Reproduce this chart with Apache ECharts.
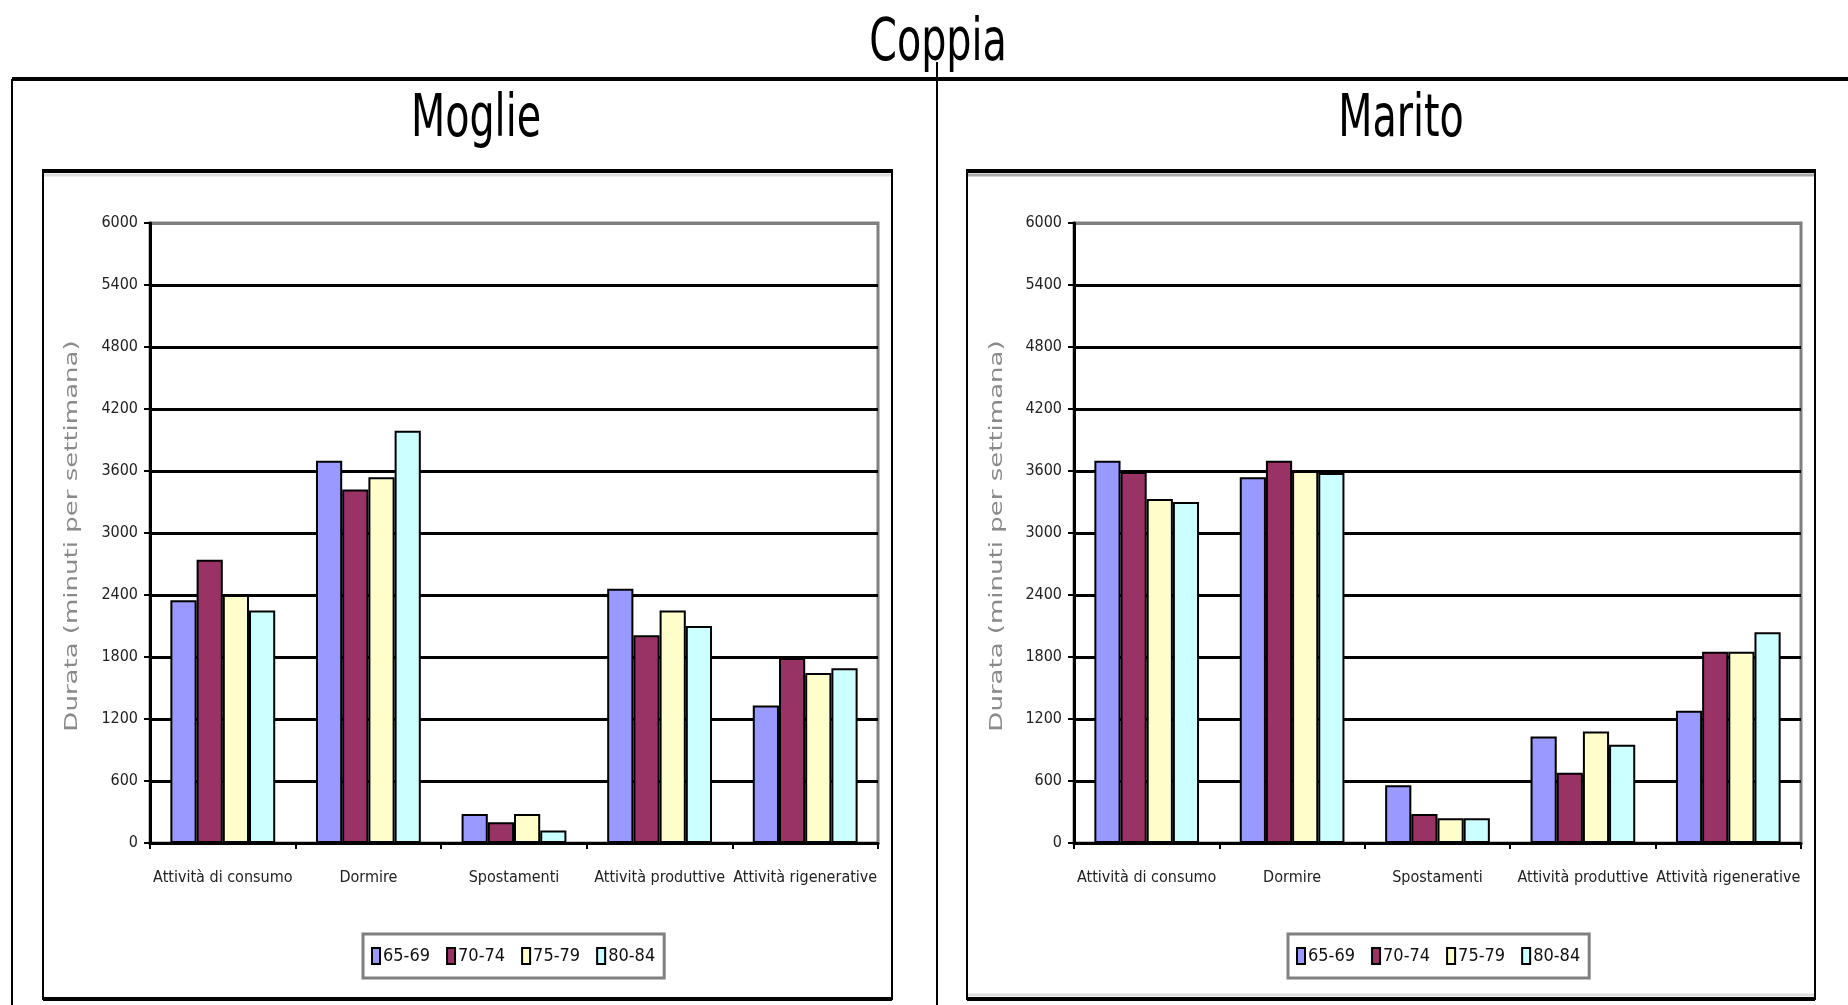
<!DOCTYPE html>
<html>
<head>
<meta charset="utf-8">
<title>Coppia</title>
<style>
    html,body{margin:0;padding:0;background:#fff;}
    #coppiaChart{width:1848px;height:1005px;position:relative;}
</style>
<script src="https://cdn.jsdelivr.net/npm/echarts@6/dist/echarts.min.js"></script>
</head>
<body>
<div id="coppiaChart"></div>
<script>
    // categorie e classi di età
    var categorie = ['Attività di consumo', 'Dormire', 'Spostamenti', 'Attività produttive', 'Attività rigenerative'];
    var classiEta = ['65-69', '70-74', '75-79', '80-84'];
    var colori = ['#9999FF', '#993366', '#FFFFCC', '#CCFFFF'];
    var yMax = 6000, yStep = 600;

    // Moglie (minuti per settimana)
    var moglie_65_69 = [2350, 3700, 280, 2460, 1330];
    var moglie_70_74 = [2740, 3420, 200, 2010, 1790];
    var moglie_75_79 = [2400, 3540, 280, 2250, 1645];
    var moglie_80_84 = [2250, 3990, 120, 2100, 1690];

    // Marito
    var marito_65_69 = [3700, 3540, 560, 1030, 1280];
    var marito_70_74 = [3590, 3700, 280, 680, 1850];
    var marito_75_79 = [3330, 3600, 240, 1080, 1850];
    var marito_80_84 = [3300, 3580, 240, 950, 2040];

    var font = "'Liberation Sans Narrow', 'Arial Narrow', 'DejaVu Sans Condensed', sans-serif";
    var asseY = 'Durata (minuti per settimana)';

    // linee di griglia nere, l'ultima (6000) grigia
    var gridColors = [];
    for (var i = 0; i <= yMax / yStep; i++) gridColors.push(i == yMax / yStep ? '#808080' : '#000');

    function xAxis(idx) {
        return {
            type: 'category', gridIndex: idx, data: categorie,
            axisLine: {lineStyle: {color: '#000', width: 3}},
            axisTick: {show: true, length: 6, lineStyle: {color: '#000', width: 2}},
            axisLabel: {color: '#222', fontFamily: font, fontSize: 16, margin: 27, interval: 0}
        };
    }
    function yAxis(idx) {
        return {
            type: 'value', gridIndex: idx, min: 0, max: yMax, interval: yStep,
            axisLine: {show: true, lineStyle: {color: '#000', width: 3}},
            axisTick: {show: true, length: 6, lineStyle: {color: '#000', width: 2}},
            axisLabel: {color: '#222', fontFamily: font, fontSize: 16, margin: 12,
                formatter: function (v) { return String(v); }},
            splitLine: {show: true, lineStyle: {color: gridColors, width: 3}}
        };
    }
    function barSeries(name, data, k, idx) {
        return {
            name: name, type: 'bar', xAxisIndex: idx, yAxisIndex: idx, data: data,
            barGap: '0%', barCategoryGap: '28%',
            itemStyle: {color: colori[k], borderColor: '#000', borderWidth: 2}
        };
    }

    var mogliData = [moglie_65_69, moglie_70_74, moglie_75_79, moglie_80_84];
    var maritoData = [marito_65_69, marito_70_74, marito_75_79, marito_80_84];
    var series = [];
    for (var k = 0; k < 4; k++) series.push(barSeries(classiEta[k], mogliData[k], k, 0));
    for (var k = 0; k < 4; k++) series.push(barSeries(classiEta[k], maritoData[k], k, 1));

    function legend(left) {
        return {
            data: classiEta, left: left, top: 934, orient: 'horizontal',
            icon: 'rect', itemWidth: 8, itemHeight: 16, itemGap: 16,
            padding: [13, 9, 13, 8],
            backgroundColor: '#fff', borderColor: '#808080', borderWidth: 3,
            textStyle: {color: '#111', fontFamily: font, fontSize: 18, padding: [0, 0, 0, -2]},
            selectedMode: false
        };
    }

    // titoli "stretti" come nell'originale
    function titolo(testo, x, y) {
        return {type: 'text', x: x, y: y, scaleX: 0.76, z: 20,
            style: {text: testo, fill: '#000', font: '58px ' + font, textAlign: 'center', textVerticalAlign: 'top'}};
    }
    // nome asse y, ruotato e allargato
    function nomeAsse(x, y) {
        return {type: 'text', x: x, y: y, rotation: Math.PI / 2, scaleX: 1.7, z: 20,
            style: {text: asseY, fill: '#8a8a8a', font: '17px ' + font, textAlign: 'center', textVerticalAlign: 'middle'}};
    }

    var option = {
        backgroundColor: '#fff',
        animation: false,
        graphic: [
            titolo('Coppia', 938, 16),
            titolo('Moglie', 476, 92),
            titolo('Marito', 1401, 92),
            nomeAsse(73, 536),
            nomeAsse(998, 536),
            // cornice esterna
            {type: 'line', shape: {x1: 12, y1: 79, x2: 1848, y2: 79}, style: {stroke: '#000', lineWidth: 4}, z: 10},
            {type: 'line', shape: {x1: 12, y1: 79, x2: 12, y2: 1005}, style: {stroke: '#000', lineWidth: 2}, z: 10},
            {type: 'line', shape: {x1: 937, y1: 62, x2: 937, y2: 1005}, style: {stroke: '#000', lineWidth: 2}, z: 10},
            // riquadri dei due grafici
            {type: 'rect', shape: {x: 43, y: 170, width: 849, height: 829}, style: {fill: null, stroke: '#000', lineWidth: 2}, z: 0},
            {type: 'line', shape: {x1: 43, y1: 171, x2: 892, y2: 171}, style: {stroke: '#000', lineWidth: 4}, z: 1},
            {type: 'line', shape: {x1: 44, y1: 175, x2: 891, y2: 175}, style: {stroke: '#ddd', lineWidth: 3}, z: 1},
            {type: 'line', shape: {x1: 43, y1: 999, x2: 892, y2: 999}, style: {stroke: '#000', lineWidth: 4}, z: 1},
            {type: 'rect', shape: {x: 967, y: 170, width: 848, height: 829}, style: {fill: null, stroke: '#000', lineWidth: 2}, z: 0},
            {type: 'line', shape: {x1: 967, y1: 171, x2: 1815, y2: 171}, style: {stroke: '#000', lineWidth: 4}, z: 1},
            {type: 'line', shape: {x1: 968, y1: 175, x2: 1814, y2: 175}, style: {stroke: '#aaa', lineWidth: 3}, z: 1},
            {type: 'line', shape: {x1: 968, y1: 995, x2: 1814, y2: 995}, style: {stroke: '#ddd', lineWidth: 3}, z: 1},
            {type: 'line', shape: {x1: 967, y1: 999, x2: 1815, y2: 999}, style: {stroke: '#000', lineWidth: 4}, z: 1}
        ],
        grid: [
            {left: 150, top: 223, width: 728, height: 620, show: true, borderColor: '#808080', borderWidth: 3, backgroundColor: '#fff'},
            {left: 1074, top: 223, width: 727, height: 620, show: true, borderColor: '#808080', borderWidth: 3, backgroundColor: '#fff'}
        ],
        legend: [legend(363), legend(1288)],
        xAxis: [xAxis(0), xAxis(1)],
        yAxis: [yAxis(0), yAxis(1)],
        series: series
    };

    var chart = echarts.init(document.getElementById('coppiaChart'));
    chart.setOption(option);
</script>
</body>
</html>
